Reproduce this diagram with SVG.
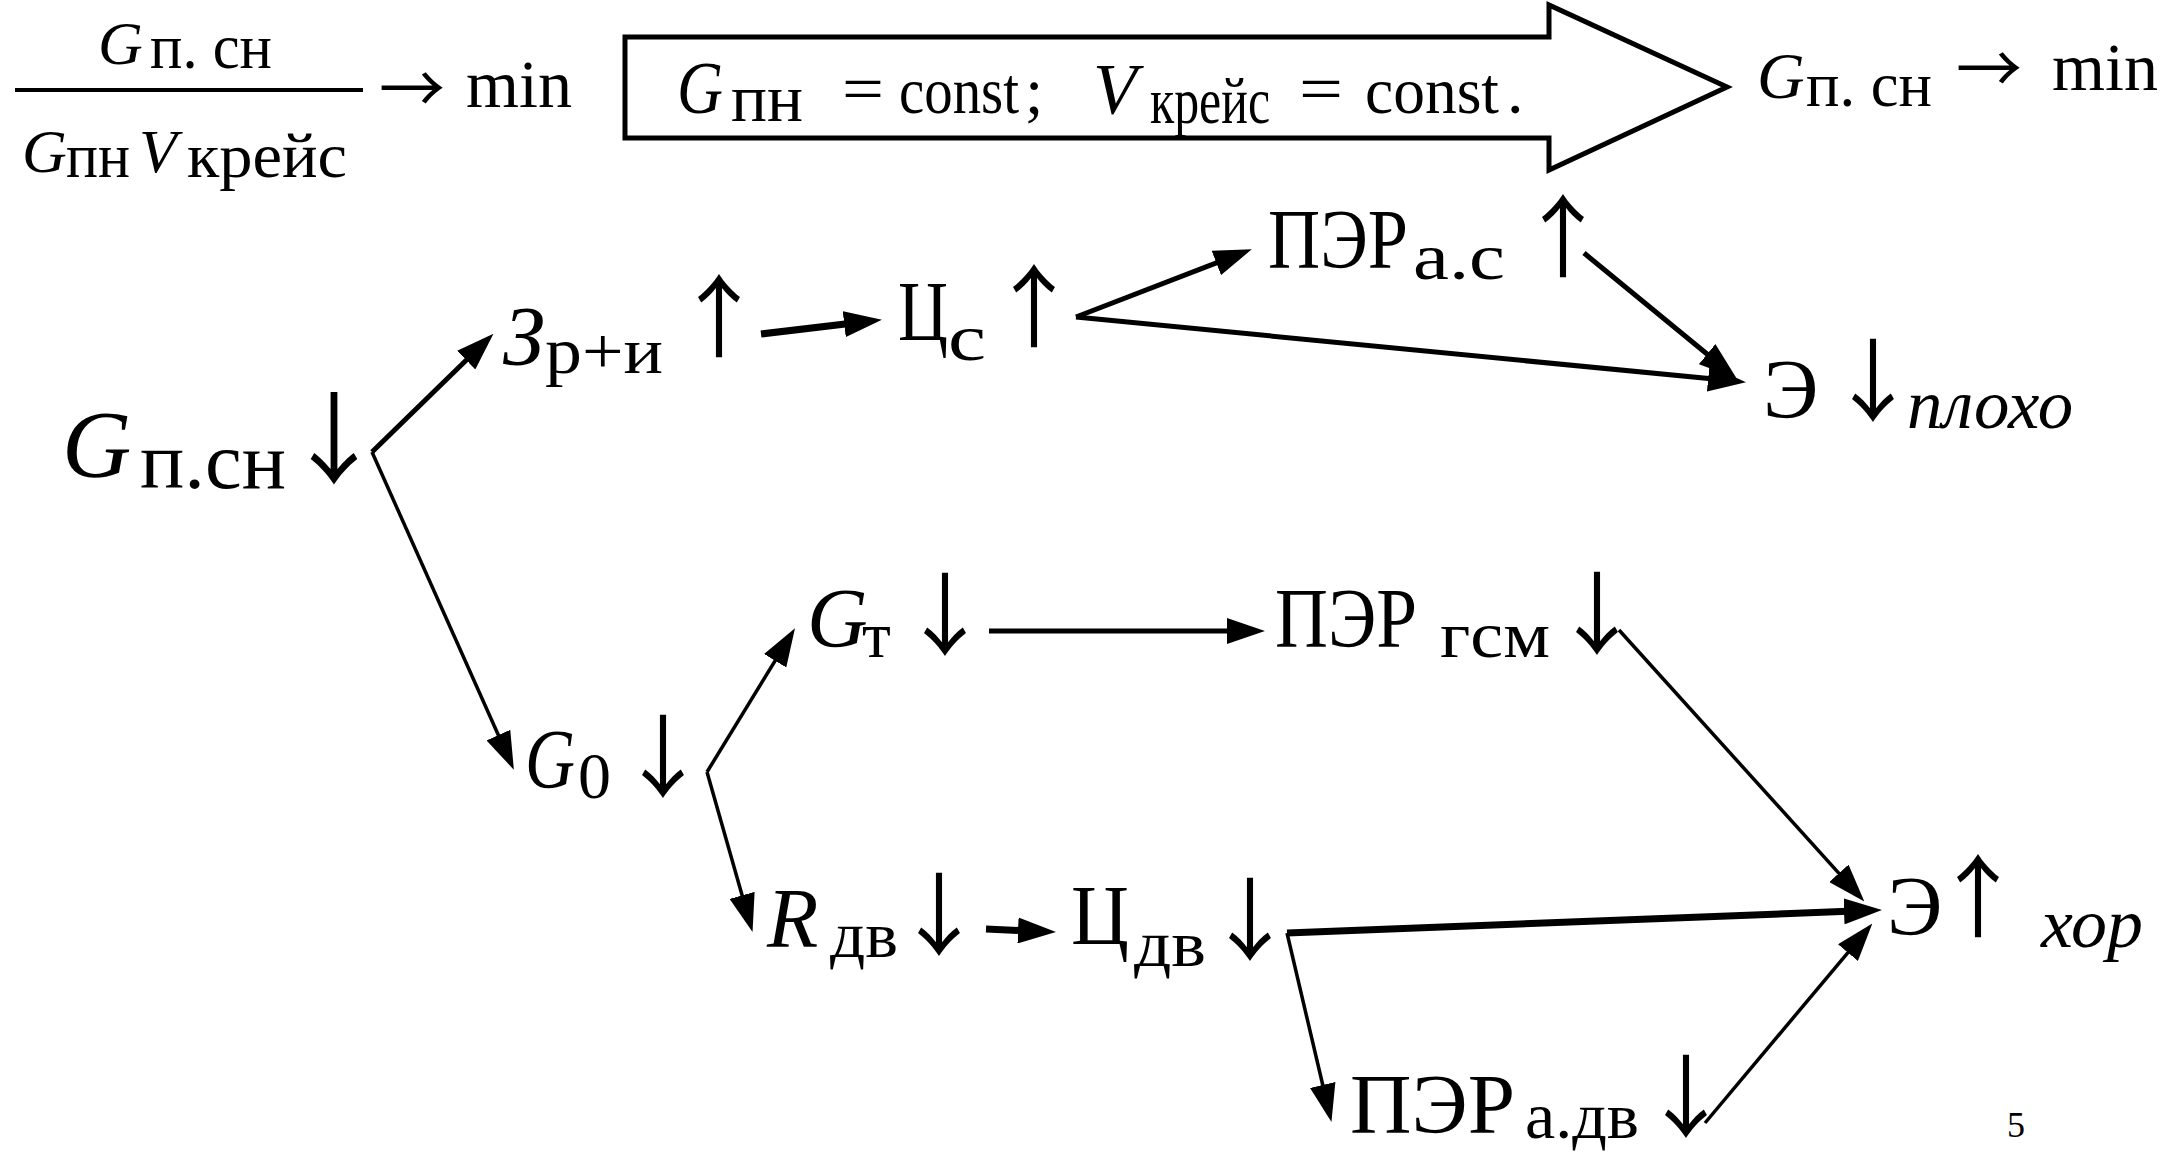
<svg xmlns="http://www.w3.org/2000/svg" width="2175" height="1155" viewBox="0 0 2175 1155">
<defs>
<style>
text{font-family:"Liberation Serif","Times New Roman",serif;fill:#000}
.it{font-style:italic}
.t62{font-size:62px}.t64{font-size:64px}.t66{font-size:66px}.t68{font-size:68px}.t70{font-size:70px}
.m{font-size:84px}.s{font-size:66px}
.ar{font-family:"Noto Sans CJK JP","Noto Sans CJK SC",sans-serif;font-size:90px}
.ra{font-family:"Noto Sans CJK JP","Noto Sans CJK SC",sans-serif;font-size:66px}
.c{fill:none;stroke:#000;stroke-width:5}
.thin{stroke-width:3.5}.thick{stroke-width:7}
</style>
<marker id="ah" markerUnits="userSpaceOnUse" markerWidth="38" markerHeight="26" viewBox="0 0 38 26" refX="16" refY="13" orient="auto">
<path d="M0,0 L38,13 L0,26 z" fill="#000"/>
</marker>
</defs>
<rect width="2175" height="1155" fill="#fff"/>

<g id="formula">
<text class="it t62" x="98" y="64">G</text>
<text class="t64" x="150" y="68" textLength="122" lengthAdjust="spacingAndGlyphs">п. сн</text>
<line x1="15" y1="90" x2="363" y2="90" stroke="#000" stroke-width="4"/>
<text class="it t62" x="22" y="172">G</text>
<text class="t64" x="66" y="177" textLength="64" lengthAdjust="spacingAndGlyphs">пн</text>
<text class="it t62" x="139" y="172">V</text>
<text class="t64" x="187" y="177" textLength="160" lengthAdjust="spacingAndGlyphs">крейс</text>
<text class="ra" x="379" y="113">→</text>
<text class="t68" x="466" y="107" textLength="106" lengthAdjust="spacingAndGlyphs">min</text>
</g>

<g id="condition">
<polygon points="625,37 1549,37 1549,5 1727,87 1549,170 1549,138 625,138" fill="none" stroke="#000" stroke-width="5"/>
<text class="it" style="font-size:74px" x="677" y="113" textLength="46" lengthAdjust="spacingAndGlyphs">G</text>
<text class="t68" x="731" y="121" textLength="72" lengthAdjust="spacingAndGlyphs">пн</text>
<text class="t66" x="842" y="111" textLength="42" lengthAdjust="spacingAndGlyphs">=</text>
<text class="t66" x="899" y="113" textLength="120" lengthAdjust="spacingAndGlyphs">const</text>
<text class="t66" x="1025" y="113">;</text>
<text class="it" style="font-size:72px" x="1093" y="113">V</text>
<text class="t66" x="1150" y="123" textLength="120" lengthAdjust="spacingAndGlyphs">крейс</text>
<text class="t66" x="1299" y="111" textLength="44" lengthAdjust="spacingAndGlyphs">=</text>
<text class="t66" x="1365" y="113" textLength="134" lengthAdjust="spacingAndGlyphs">const</text>
<text class="t66" x="1507" y="113">.</text>
</g>

<g id="result">
<text class="it t66" x="1757" y="98">G</text>
<text class="t64" x="1806" y="106" textLength="126" lengthAdjust="spacingAndGlyphs">п. сн</text>
<text class="ra" x="1956" y="93">→</text>
<text class="t68" x="2052" y="90" textLength="106" lengthAdjust="spacingAndGlyphs">min</text>
</g>

<g id="n-gpsn">
<text class="it" style="font-size:96px" x="62" y="477">G</text>
<text style="font-size:80px" x="140" y="488" textLength="146" lengthAdjust="spacingAndGlyphs">п.сн</text>
<text class="ar" style="font-size:100px" x="284" y="476">↓</text>
</g>

<g id="n-zri">
<text class="it m" x="503" y="365">З</text>
<text class="s" x="545" y="373" textLength="118" lengthAdjust="spacingAndGlyphs">р+и</text>
<text class="ar" x="674" y="350">↑</text>
</g>

<g id="n-tss">
<text class="m" x="898" y="340" textLength="50" lengthAdjust="spacingAndGlyphs">Ц</text>
<text class="s" x="948" y="360" textLength="38" lengthAdjust="spacingAndGlyphs">с</text>
<text class="ar" x="989" y="340">↑</text>
</g>

<g id="n-per-as">
<text class="m" x="1268" y="268" textLength="140" lengthAdjust="spacingAndGlyphs">ПЭР</text>
<text class="s" x="1413" y="279" textLength="92" lengthAdjust="spacingAndGlyphs">а.с</text>
<text class="ar" x="1518" y="270">↑</text>
</g>

<g id="n-e-bad">
<text class="m" x="1763" y="418">Э</text>
<text class="ar" x="1828" y="414">↓</text>
<text class="it t70" x="1907" y="428" textLength="166" lengthAdjust="spacingAndGlyphs">плохо</text>
</g>

<g id="n-g0">
<text class="it m" x="525" y="788" textLength="50" lengthAdjust="spacingAndGlyphs">G</text>
<text class="s" x="578" y="798">0</text>
<text class="ar" x="618" y="790">↓</text>
</g>

<g id="n-gt">
<text class="it m" x="807" y="647">G</text>
<text class="s" x="862" y="657">т</text>
<text class="ar" x="900" y="648">↓</text>
</g>

<g id="n-per-gsm">
<text class="m" x="1275" y="647" textLength="142" lengthAdjust="spacingAndGlyphs">ПЭР</text>
<text class="s" x="1440" y="657" textLength="110" lengthAdjust="spacingAndGlyphs">гсм</text>
<text class="ar" x="1552" y="647">↓</text>
</g>

<g id="n-rdv">
<text class="it m" x="767" y="947">R</text>
<text class="s" x="830" y="957" textLength="68" lengthAdjust="spacingAndGlyphs">дв</text>
<text class="ar" x="894" y="948">↓</text>
</g>

<g id="n-tsdv">
<text class="m" x="1071" y="944" textLength="58" lengthAdjust="spacingAndGlyphs">Ц</text>
<text class="s" x="1134" y="966" textLength="72" lengthAdjust="spacingAndGlyphs">дв</text>
<text class="ar" x="1205" y="953">↓</text>
</g>

<g id="n-per-adv">
<text class="m" x="1350" y="1133" textLength="165" lengthAdjust="spacingAndGlyphs">ПЭР</text>
<text class="s" x="1525" y="1138" textLength="114" lengthAdjust="spacingAndGlyphs">а.дв</text>
<text class="ar" x="1641" y="1130">↓</text>
</g>

<g id="n-e-good">
<text class="m" x="1887" y="935">Э</text>
<text class="ar" x="1933" y="930">↑</text>
<text class="it t70" x="2041" y="947" textLength="102" lengthAdjust="spacingAndGlyphs">хор</text>
</g>

<g id="page">
<text style="font-size:36px" x="2007" y="1137">5</text>
</g>

<g id="connectors" class="c" marker-end="url(#ah)">
<line x1="372" y1="452" x2="477.7" y2="349"/>
<line class="thin" x1="372" y1="452" x2="504.9" y2="749.7"/>
<line class="thick" x1="761" y1="334" x2="860.1" y2="322.3"/>
<line x1="1076" y1="317" x2="1231.3" y2="257.2"/>
<line x1="1076" y1="317" x2="1724.1" y2="380.1"/>
<line x1="1584" y1="253" x2="1719.5" y2="364.3"/>
<line class="thin" x1="707" y1="772" x2="783.5" y2="647.1"/>
<line class="thin" x1="707" y1="772" x2="746.5" y2="910.8"/>
<line x1="989" y1="631" x2="1243" y2="631"/>
<line class="thin" x1="1619" y1="630" x2="1849.6" y2="885.2"/>
<line class="thick" x1="986" y1="929" x2="1034" y2="931.1"/>
<line class="thick" x1="1287" y1="933" x2="1860" y2="910.8"/>
<line class="thin" x1="1287" y1="933" x2="1326.4" y2="1100.5"/>
<line class="thin" x1="1705" y1="1123" x2="1858.2" y2="940.3"/>
</g>
</svg>
